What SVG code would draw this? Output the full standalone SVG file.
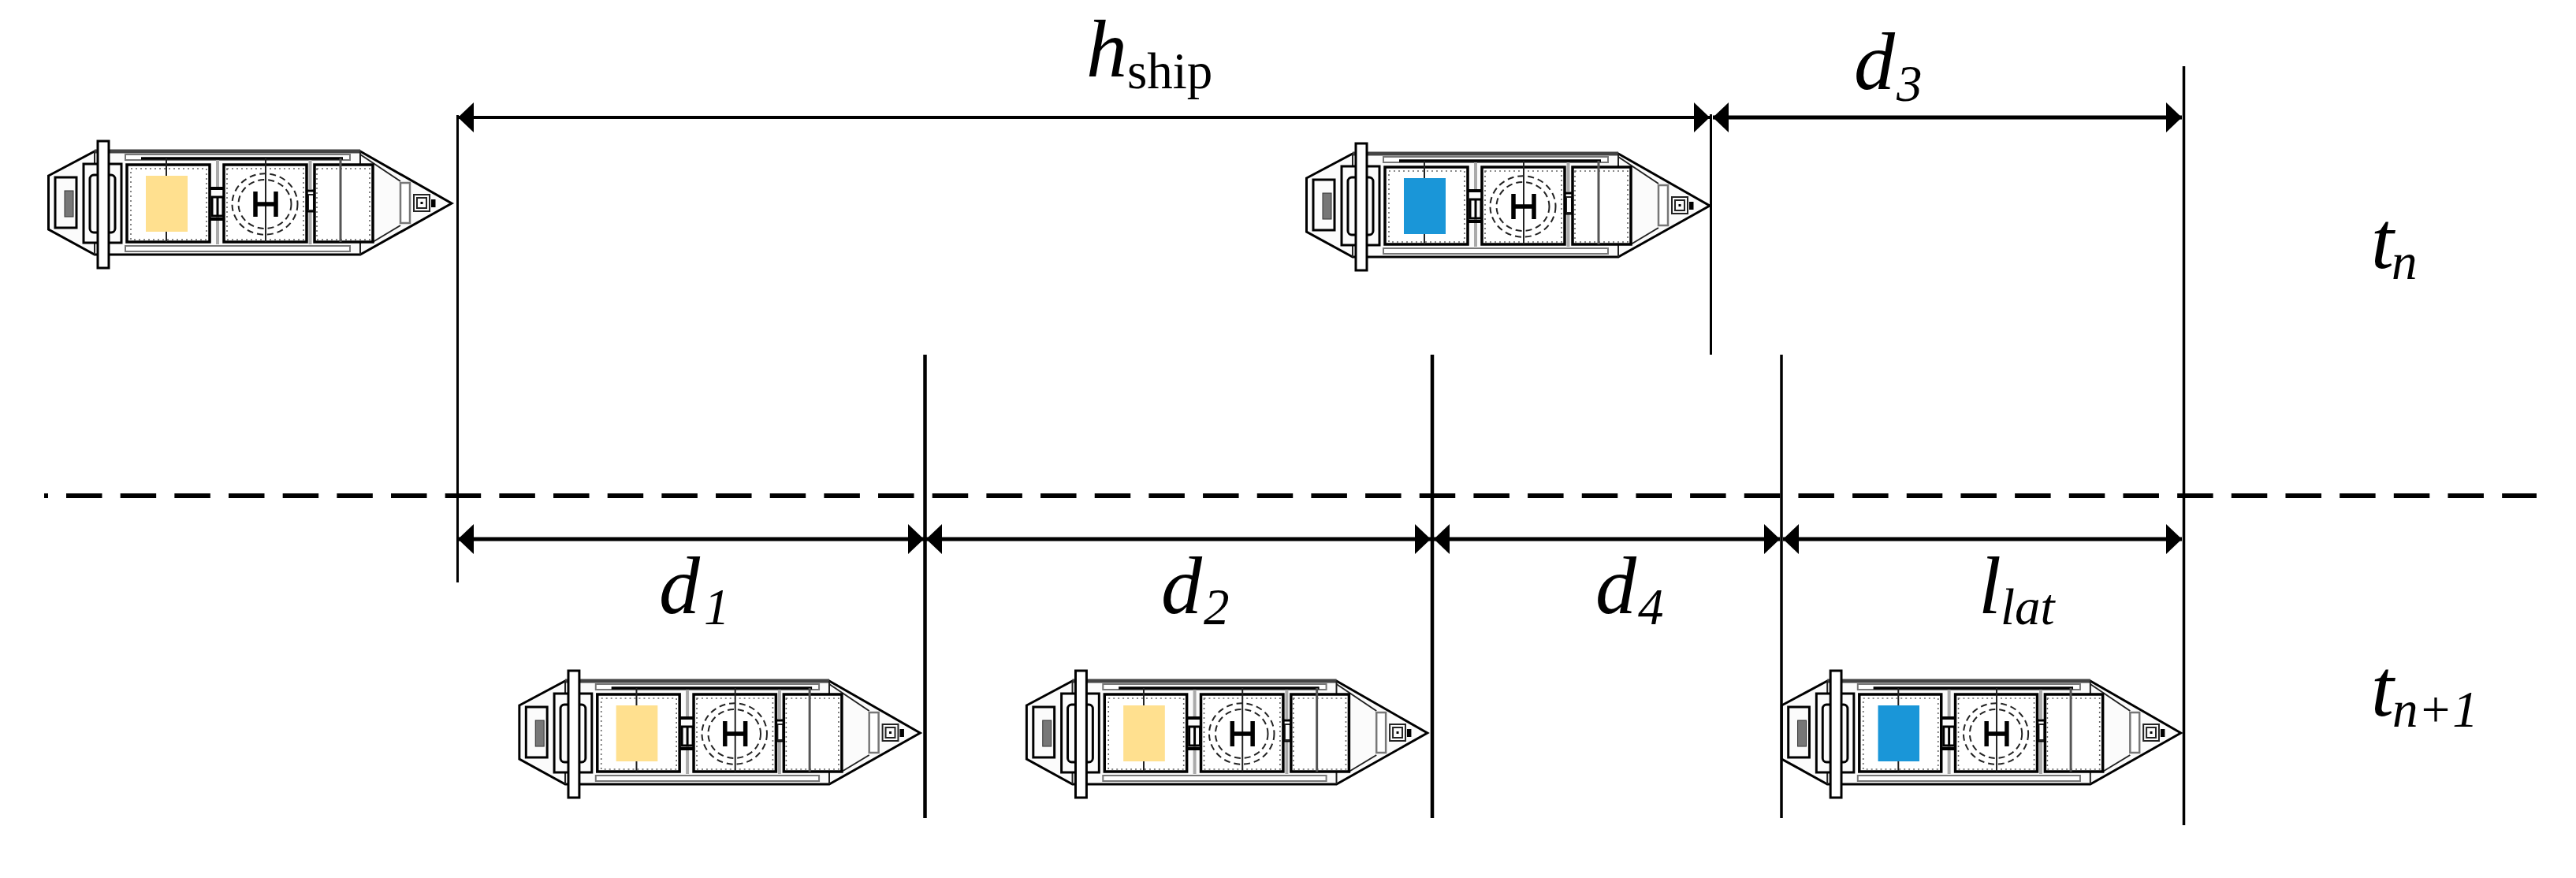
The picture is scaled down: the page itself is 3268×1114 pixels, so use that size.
<svg xmlns="http://www.w3.org/2000/svg" xmlns:xlink="http://www.w3.org/1999/xlink" width="3268" height="1114" viewBox="0 0 3268 1114">
<style>
text{font-family:"Liberation Serif","Times New Roman",serif;fill:#000}
.m{font-style:italic;font-size:104px}
.s{font-style:italic;font-size:65px}
.r{font-style:normal;font-size:65px}
.b{fill:none;stroke:#000;stroke-width:3}
.w{fill:#fff;stroke:#000;stroke-width:3.500}
.g{fill:none;stroke:#777;stroke-width:3}
.t{fill:none;stroke:#222;stroke-width:2}
.d{fill:none;stroke:#666;stroke-width:1.600;stroke-dasharray:2 4}
.c{fill:none;stroke:#222;stroke-width:2;stroke-dasharray:8 5}
.h{fill:none;stroke:#000;stroke-width:5;marker-start:url(#as);marker-end:url(#ae)}
</style>
<defs>
<marker id="ae" markerUnits="userSpaceOnUse" markerWidth="20" markerHeight="38" refX="20" refY="19" orient="auto"><path d="M0 0L20 19L0 38Z"/></marker>
<marker id="as" markerUnits="userSpaceOnUse" markerWidth="20" markerHeight="38" refX="0" refY="19" orient="auto"><path d="M20 0L0 19L20 38Z"/></marker>
<g id="hull">
<path d="M21.500 63L80 32H417L533 98L417 163H80L21.500 131Z" fill="#fbfbfb" stroke="#000" stroke-width="3"/>
<path d="M80 32H417" stroke="#444" stroke-width="5"/>
<path d="M417 32V50M417 147V163M80 32V48M80 148V163" class="t"/>
<path d="M417 36L468 70M433 147L468 126" class="t"/>
<rect x="30" y="65" width="27" height="64" class="b"/>
<rect x="42" y="82" width="11" height="33" fill="#777" stroke="#333" stroke-width="1"/>
<rect x="66" y="48" width="48" height="100" class="b"/>
<rect x="74" y="62" width="32" height="73" rx="5" class="b"/>
<rect x="119" y="36" width="285" height="7" fill="#fff" stroke="#777" stroke-width="2"/>
<path d="M139 41H395" stroke="#000" stroke-width="3.500"/>
<rect x="119" y="152" width="285" height="7" fill="#fff" stroke="#777" stroke-width="2"/>
<path d="M236 43V77M236 115V150M353.500 43V80M353.500 107V150" stroke="#aaa" stroke-width="4"/>
<path d="M226 79H244M226 118H244" stroke="#000" stroke-width="4"/>
<rect x="229" y="90" width="14" height="24" class="b"/>
<path d="M236 90V114" stroke="#000" stroke-width="3"/>
<path d="M349 82H359M349 108H359" stroke="#000" stroke-width="3"/>
<rect x="351" y="87" width="7" height="20" class="t"/>
<rect x="121" y="49" width="105" height="98" class="w"/>
<rect x="126" y="54" width="96" height="90" class="d"/>
<path d="M171 41V147" class="t"/>
<rect x="244" y="49" width="105" height="98" class="w"/>
<rect x="248" y="54" width="97" height="90" class="d"/>
<ellipse cx="296" cy="99" rx="41.500" ry="38.700" class="c"/>
<ellipse cx="296" cy="99" rx="33.500" ry="31" class="c"/>
<path d="M297 41V147" class="t"/>
<path d="M284 83V115M310 83V115M284 99H310" fill="none" stroke="#000" stroke-width="5.500"/>
<rect x="359" y="49" width="74" height="98" class="w"/>
<rect x="362" y="54" width="67" height="90" class="d"/>
<path d="M392 41V147" stroke="#555" stroke-width="3"/>
<rect x="468" y="72" width="12" height="51" fill="#fff" stroke="#777" stroke-width="2.500"/>
<rect x="485" y="87" width="20" height="21" class="t"/>
<rect x="489" y="91" width="12" height="13" class="t"/>
<rect x="493.500" y="96" width="3" height="3" fill="#000"/>
<rect x="507" y="93" width="5.500" height="10" fill="#000"/>
<rect x="84" y="19" width="14" height="161" fill="#fff" stroke="#000" stroke-width="3"/>
</g>
<g id="yellow-ship"><use href="#hull"/><rect x="145" y="63" width="53" height="71" fill="#FFE08F"/></g>
<g id="blue-ship"><use href="#hull"/><rect x="145" y="63" width="53" height="71" fill="#1A96D8"/></g>
</defs>
<rect width="3268" height="1114" fill="#fff"/>
<g id="ship-yellow-tn" transform="translate(40 160)"><use href="#yellow-ship"/></g>
<g id="ship-blue-tn" transform="translate(1636 163)"><use href="#blue-ship"/></g>
<g id="ship-yellow-a-tn1" transform="translate(637.500 832) scale(.994 1)"><use href="#yellow-ship"/></g>
<g id="ship-yellow-b-tn1" transform="translate(1281 832) scale(.994 1)"><use href="#yellow-ship"/></g>
<g id="ship-blue-tn1" transform="translate(2239 832) scale(.99 1)"><use href="#blue-ship"/></g>
<g id="connectors">
<path d="M56 629H61M84 629H3218" fill="none" stroke="#000" stroke-width="6" stroke-dasharray="45.500 23.170"/>
<path fill="none" stroke="#000" stroke-width="3" d="M580.500 146V739M2170.500 145V450"/>
<path fill="none" stroke="#000" stroke-width="4.500" d="M1173.500 450V1038M1817 450V1038"/>
<path fill="none" stroke="#000" stroke-width="3.500" d="M2260 450V1038M2770.500 84V1047"/>
<path class="h" style="stroke-width:4" d="M581 149H2169"/>
<path class="h" d="M2173 149H2768"/>
<path class="h" d="M581 684H1172"/>
<path class="h" d="M1175 684H1815"/>
<path class="h" d="M1819 684H2258"/>
<path class="h" d="M2262 684H2768"/>
</g>
<g id="labels">
<text x="1378" y="97" class="m">h<tspan x="1430" y="112" class="r">ship</tspan></text>
<text x="2352" y="113" class="m">d<tspan x="2406" y="128" class="s">3</tspan></text>
<text x="836" y="778" class="m">d<tspan x="893" y="792" class="s">1</tspan></text>
<text x="1473" y="778" class="m">d<tspan x="1527" y="792" class="s">2</tspan></text>
<text x="2024" y="778" class="m">d<tspan x="2078" y="792" class="s">4</tspan></text>
<text x="2510" y="778" class="m">l<tspan x="2538" y="792" class="s">lat</tspan></text>
<text x="3008" y="340" class="m">t<tspan x="3034" y="354" class="s">n</tspan></text>
<text x="3008" y="908" class="m">t<tspan x="3035" y="922" class="s">n+1</tspan></text>
</g>
</svg>
